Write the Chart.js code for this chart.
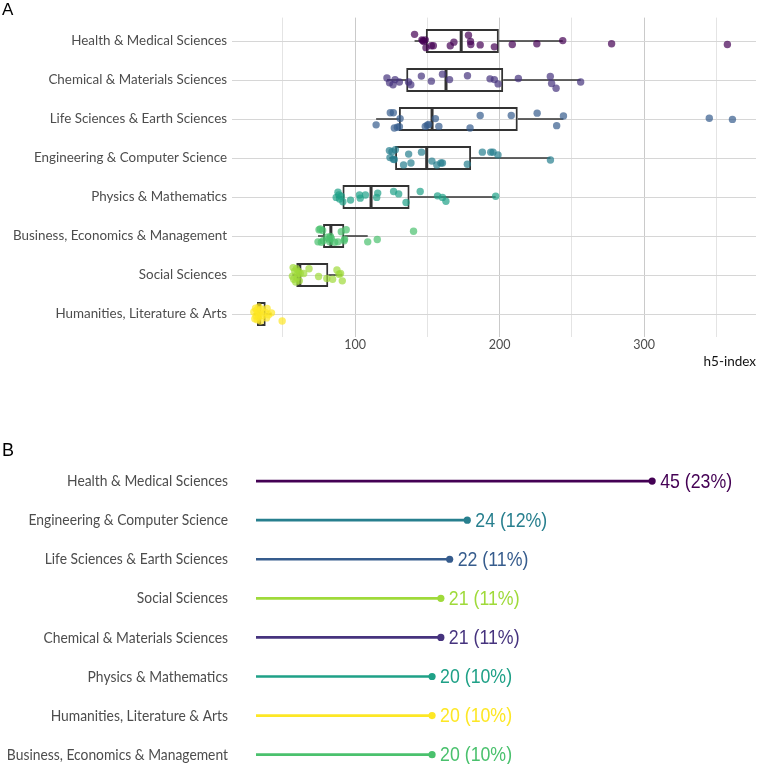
<!DOCTYPE html>
<html><head><meta charset="utf-8">
<script src="https://cdn.jsdelivr.net/npm/chart.js@4/dist/chart.umd.min.js"></script>
<style>
html,body{margin:0;padding:0;background:#fff;width:760px;height:764px;overflow:hidden;}
body{position:relative;}
#wa{position:absolute;left:0;top:0;width:760px;height:380px;}
#wb{position:absolute;left:0;top:380px;width:760px;height:384px;}
.pl{position:absolute;left:2px;font-family:"Liberation Sans",Arial,sans-serif;font-size:17px;line-height:1;color:#000;}
</style></head><body>
<div id="wa"><canvas id="ca" width="760" height="380"></canvas></div>
<div id="wb"><canvas id="cb" width="760" height="384"></canvas></div>
<div class="pl" style="top:1px">A</div>
<div class="pl" style="top:441px;font-size:18px">B</div>
<script>
// ---------- Panel A data (h5-index per category) ----------
const categories = ["Health & Medical Sciences","Chemical & Materials Sciences","Life Sciences & Earth Sciences","Engineering & Computer Science","Physics & Mathematics","Business, Economics & Management","Social Sciences","Humanities, Literature & Arts"];
const categoryColors = ["#440154","#46337E","#365C8D","#277F8E","#1FA187","#4AC16D","#9FDA3A","#FDE725"];

const healthH5 = [141.2,146.3,147.0,147.5,148.6,149.1,152.8,154.2,165.9,168.4,178.5,179.9,180.1,186.6,196.4,208.8,225.8,243.7,277.5,357.6];
const healthJitter = [-0.17,-0.03,-0.01,0.01,-0.03,0.17,0.12,0.12,0.12,0.03,-0.15,0.01,0.09,0.10,0.15,0.09,0.07,-0.01,0.07,0.09];
const chemH5 = [122.1,123.9,126.3,127.7,130.7,137.0,138.6,145.9,152.8,160.5,165.4,177.8,193.4,196.4,199.0,213.0,235.1,236.0,239.1,256.1];
const chemJitter = [-0.05,0.07,0.12,-0.01,0.05,0.05,0.12,-0.10,0.03,-0.15,-0.01,-0.11,-0.03,-0.01,0.10,-0.04,-0.09,0.09,0.21,0.05];
const lifeH5 = [114.6,124.4,126.5,127.2,129.3,130.7,131.2,148.6,150.0,151.0,155.6,158.0,179.6,186.6,208.1,226.0,239.5,244.2,345.1,361.1];
const lifeJitter = [0.15,-0.16,-0.16,0.23,0.21,0.20,-0.01,0.19,0.16,0.14,-0.01,0.19,0.23,-0.09,-0.09,-0.15,0.17,-0.08,-0.02,0.01];
const engH5 = [123.8,124.2,125.6,126.5,127.2,127.9,133.6,137.1,138.7,146.0,153.2,156.6,159.4,160.5,177.7,188.1,193.9,195.5,198.9,235.2];
const engJitter = [-0.19,-0.01,-0.16,0.03,0.04,-0.21,0.18,-0.10,0.13,-0.15,0.08,0.18,0.13,0.13,0.16,-0.15,-0.15,-0.15,-0.08,0.05];
const physH5 = [87.0,88.2,88.9,89.3,90.5,91.6,96.9,103.1,103.6,107.2,115.0,115.7,126.7,130.2,135.3,145.1,157.1,160.5,162.9,197.3];
const physJitter = [0.01,-0.12,-0.05,0.05,-0.02,0.12,0.08,-0.05,0.03,-0.05,0.01,-0.10,-0.14,-0.08,0.14,-0.14,-0.03,0.01,0.11,-0.02];
const busH5 = [74.4,75.1,76.0,76.7,77.6,78.0,80.6,81.9,82.5,83.0,83.6,85.9,88.2,90.5,92.5,92.8,93.9,108.8,115.4,140.5];
const busJitter = [0.15,-0.16,-0.18,0.16,-0.14,0.12,0.03,0.08,0.15,0.01,0.06,0.16,0.15,-0.11,0.12,0.08,-0.16,0.15,0.09,-0.12];
const socH5 = [56.7,57.2,57.6,58.3,59.0,59.5,59.9,60.4,61.0,61.5,62.1,64.5,68.2,74.8,80.5,84.5,87.5,88.9,90.0,91.2];
const socJitter = [0.03,-0.19,0.11,-0.10,0.18,-0.16,0.07,-0.04,-0.10,0.15,-0.04,-0.04,-0.16,0.04,0.09,0.11,-0.13,-0.02,-0.04,0.15];
const humH5 = [30.0,30.7,31.2,31.6,31.9,32.3,32.8,33.2,33.5,33.9,34.1,34.6,35.2,36.0,38.0,38.8,39.2,40.2,42.2,49.6];
const humJitter = [-0.05,0.12,-0.15,0.05,-0.10,0.15,-0.02,0.08,-0.18,0.02,-0.08,0.18,-0.12,0.04,-0.04,0.10,-0.14,0.02,-0.03,0.18];

const xTickValues = [50,100,150,200,250,300,350];

// ---------- Panel B data (counts) ----------
const countCategories = ["Health & Medical Sciences","Engineering & Computer Science","Life Sciences & Earth Sciences","Social Sciences","Chemical & Materials Sciences","Physics & Mathematics","Humanities, Literature & Arts","Business, Economics & Management"];
const counts = [45,24,22,21,21,20,20,20];
const countColors = ["#440154","#277F8E","#365C8D","#9FDA3A","#46337E","#1FA187","#FDE725","#4AC16D"];

// ---------- helpers ----------
const seriesH5 = [healthH5, chemH5, lifeH5, engH5, physH5, busH5, socH5, humH5];
const seriesJitter = [healthJitter, chemJitter, lifeJitter, engJitter, physJitter, busJitter, socJitter, humJitter];

function quantile(sorted, p){
  const h = (sorted.length - 1) * p, lo = Math.floor(h);
  const hi = Math.min(lo + 1, sorted.length - 1);
  return sorted[lo] + (h - lo) * (sorted[hi] - sorted[lo]);
}
function boxStats(values){
  const s = values.slice().sort((a,b)=>a-b);
  const q1 = quantile(s,0.25), med = quantile(s,0.5), q3 = quantile(s,0.75);
  const iqr = q3 - q1;
  const lo = Math.min(...s.filter(v => v >= q1 - 1.5*iqr));
  const hi = Math.max(...s.filter(v => v <= q3 + 1.5*iqr));
  return {q1, med, q3, lo, hi};
}
const stats = seriesH5.map(boxStats);
const BOX_HALF = 0.305;
const GAP = {x:null, y:null};

const fontA = "Lato, 'Open Sans', sans-serif";
const fontArial = "'Liberation Sans', Arial, sans-serif";

// ---------- Chart A ----------
const datasetsA = [];
seriesH5.forEach((vals, i) => {
  datasetsA.push({
    type: 'scatter',
    data: vals.map((v, k) => ({x: v, y: i + seriesJitter[i][k]})),
    backgroundColor: categoryColors[i] + 'B3',
    borderWidth: 0,
    pointRadius: 3.7,
    order: 0
  });
});
datasetsA.push({
  type: 'bar', indexAxis: 'y',
  data: stats.map((s, i) => ({y: i, x: [s.q1, s.q3]})),
  backgroundColor: 'rgba(255,255,255,0)',
  borderColor: '#333333', borderWidth: 1.9, borderSkipped: false,
  barPercentage: 1, categoryPercentage: 2*BOX_HALF,
  order: 2
});
datasetsA.push({
  type: 'line',
  data: stats.flatMap((s, i) => [{x:s.lo,y:i},{x:s.q1,y:i},GAP,{x:s.q3,y:i},{x:s.hi,y:i},GAP]),
  borderColor: '#333333', borderWidth: 1.6, pointRadius: 0, spanGaps: false, fill: false,
  order: 3
});
datasetsA.push({
  type: 'line',
  data: stats.flatMap((s, i) => [{x:s.med,y:i-BOX_HALF},{x:s.med,y:i+BOX_HALF},GAP]),
  borderColor: '#333333', borderWidth: 3, pointRadius: 0, spanGaps: false, fill: false,
  order: 1
});

new Chart(document.getElementById('ca'), {
  type: 'scatter',
  data: {datasets: datasetsA},
  options: {
    responsive: false, animation: false, events: [],
    layout: {padding: {top: 17.6, right: 2, bottom: 0, left: 0}},
    plugins: {legend: {display: false}, tooltip: {enabled: false}},
    scales: {
      x: {
        type: 'linear', min: 14.9, max: 377.4, offset: false,
        afterBuildTicks: ax => { ax.ticks = xTickValues.map(v => ({value: v})); },
        afterFit: sc => { sc.height = 42.6; },
        grid: {offset: false, color: c => (c.tick && c.tick.value % 100 === 0) ? '#cacaca' : '#e4e4e4', drawTicks: false, lineWidth: 1},
        border: {display: false},
        ticks: {callback: v => v % 100 === 0 ? String(v) : '', color: '#4d4d4d', font: {family: fontA, size: 12.5}, padding: 0, maxRotation: 0, autoSkip: false},
        title: {display: true, text: 'h5-index', align: 'end', color: '#111', font: {family: fontA, size: 13.5}, padding: {top: 2, bottom: 10}}
      },
      y: {
        type: 'linear', reverse: true, min: -0.6, max: 7.6, offset: false,
        afterBuildTicks: ax => { ax.ticks = categories.map((c, i) => ({value: i})); },
        afterFit: sc => { sc.width = 232; },
        grid: {offset: false, color: '#d6d6d6', drawTicks: false, lineWidth: 1},
        border: {display: false},
        ticks: {callback: v => categories[v], color: '#4d4d4d', font: {family: fontA, size: 13.4}, padding: 5, autoSkip: false}
      }
    }
  }
});

// ---------- Chart B ----------
const total = counts.reduce((a, b) => a + b, 0);
const countLabels = counts.map(c => c + ' (' + Math.round(c / total * 100) + '%)');

const lollipopText = {
  id: 'lollipopText',
  afterDatasetsDraw(chart){
    const ctx = chart.ctx;
    const ys = chart.scales.y;
    const left = chart.chartArea.left - 28;
    // category labels (condensed)
    ctx.save();
    ctx.font = '16px ' + fontA;
    ctx.textAlign = 'right'; ctx.textBaseline = 'middle'; ctx.fillStyle = '#4d4d4d';
    countCategories.forEach((c, i) => {
      ctx.save();
      ctx.translate(left, ys.getPixelForValue(i));
      ctx.scale(0.865, 1);
      ctx.fillText(c, 0, 0);
      ctx.restore();
    });
    ctx.restore();
    // value labels
    const meta = chart.getDatasetMeta(1);
    ctx.save();
    ctx.font = '21px ' + fontArial;
    ctx.textAlign = 'left'; ctx.textBaseline = 'middle';
    meta.data.forEach((pt, i) => {
      ctx.save();
      ctx.translate(pt.x + 8, pt.y + 1);
      ctx.scale(0.845, 1);
      ctx.fillStyle = countColors[i];
      ctx.fillText(countLabels[i], 0, 0);
      ctx.restore();
    });
    ctx.restore();
  }
};

new Chart(document.getElementById('cb'), {
  type: 'scatter',
  data: {datasets: [
    {type: 'bar', indexAxis: 'y', data: counts.map((c, i) => ({y: i, x: c})),
     backgroundColor: countColors, borderWidth: 0, barThickness: 2, order: 1},
    {type: 'scatter', data: counts.map((c, i) => ({x: c, y: i})),
     backgroundColor: countColors, borderWidth: 0, pointRadius: 3.6, order: 0}
  ]},
  options: {
    responsive: false, animation: false, events: [],
    layout: {padding: {top: 77.6, right: 0, bottom: 0.25, left: 0}},
    plugins: {legend: {display: false}, tooltip: {enabled: false}},
    scales: {
      x: {type: 'linear', min: 0, max: 56.8, display: false, offset: false},
      y: {
        type: 'linear', reverse: true, min: -0.6, max: 7.136, offset: false,
        afterBuildTicks: ax => { ax.ticks = countCategories.map((c, i) => ({value: i})); },
        afterFit: sc => { sc.width = 256; },
        grid: {display: false, drawTicks: false, offset: false},
        border: {display: false},
        ticks: {display: false}
      }
    }
  },
  plugins: [lollipopText]
});
</script>
</body></html>
